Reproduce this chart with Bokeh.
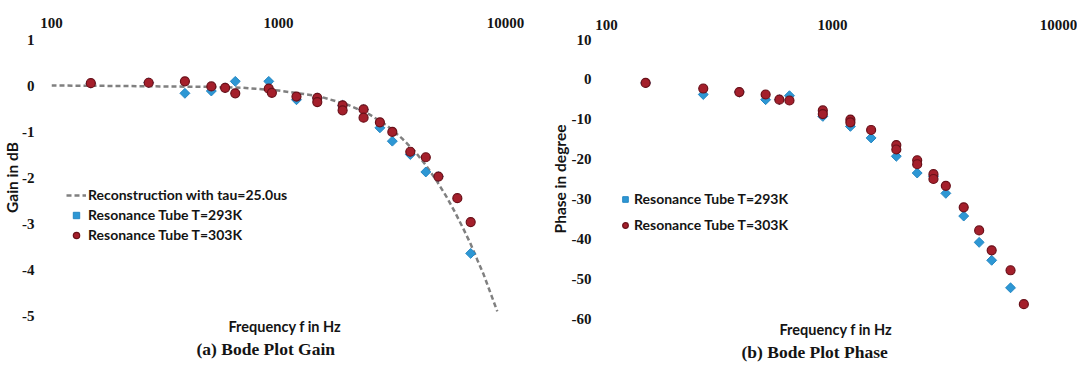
import math
from bokeh.plotting import figure
from bokeh.layouts import row
from bokeh.models import FixedTicker, Legend, LegendItem, Range1d, Title
from bokeh.embed import file_html
from bokeh.resources import INLINE

# ---------------- data ----------------
x_ticks = [100, 1000, 10000]
x_tick_labels = ["100", "1000", "10000"]
gain_ticks = [1, 0, -1, -2, -3, -4, -5]
gain_tick_labels = ["1", "0", "-1", "-2", "-3", "-4", "-5"]
phase_ticks = [10, 0, -10, -20, -30, -40, -50, -60]
phase_tick_labels = ["10", "0", "-10", "-20", "-30", "-40", "-50", "-60"]

# dashed reconstruction curve (tau = 25.0 us)
recon_freq = [100, 200, 300, 500, 700, 1000, 1500, 2000, 2500, 3000, 3500,
              4000, 4500, 5000, 5500, 6000, 6500, 7000, 7500, 8000, 8500, 9200]
recon_gain = [0.0, -0.01, -0.02, -0.03, -0.05, -0.11, -0.23, -0.41, -0.62, -0.87, -1.15,
              -1.44, -1.76, -2.09, -2.42, -2.76, -3.10, -3.43, -3.78, -4.10, -4.45, -4.91]

# Bode gain, resonance tube T=293K
gain293_freq = [149, 268, 387, 506, 582, 645, 906, 1200, 1482, 1916, 2370,
                2797, 3173, 3807, 4456, 5062, 7025]
gain293 = [0.05, 0.06, -0.17, -0.12, -0.05, 0.09, 0.09, -0.31, -0.27, -0.43, -0.52,
           -0.92, -1.21, -1.50, -1.88, -1.98, -3.65]

# Bode gain, resonance tube T=303K
gain303_freq = [149, 268, 387, 506, 582, 645, 906, 935, 1200, 1482, 1482, 1916, 1916,
                2370, 2370, 2797, 3173, 3807, 4456, 5062, 6135, 7025]
gain303 = [0.05, 0.06, 0.09, -0.02, -0.05, -0.17, -0.07, -0.16, -0.24, -0.27, -0.36,
           -0.43, -0.54, -0.52, -0.70, -0.80, -1.01, -1.44, -1.56, -1.98, -2.45, -2.97]

# Bode phase, resonance tube T=293K
phase293_freq = [149, 268, 387, 506, 582, 645, 906, 1200, 1482, 1916, 2370,
                 2797, 3173, 3807, 4456, 5062, 6135]
phase293 = [-0.9, -3.8, -3.2, -5.1, -5.1, -4.1, -9.3, -11.8, -14.7, -19.3, -23.5,
            -24.3, -28.6, -34.3, -40.9, -45.4, -52.3]

# Bode phase, resonance tube T=303K
phase303_freq = [149, 268, 387, 506, 582, 645, 906, 906, 1200, 1200, 1482, 1916, 1916,
                 2370, 2370, 2797, 2797, 3173, 3807, 4456, 5062, 6135, 7025]
phase303 = [-0.9, -2.3, -3.2, -3.8, -5.1, -5.3, -7.8, -8.7, -10.1, -10.8, -12.7, -16.5, -17.6,
            -20.3, -21.3, -23.8, -25.0, -26.7, -32.1, -37.9, -42.9, -47.9, -56.4]

# ---------------- styling ----------------
BLUE = "#2d97d4"
BLUE_EDGE = "#2587c3"
RED = "#a41f2b"
RED_EDGE = "#6a1019"
GREY = "#808080"
TXT = "#141414"
SERIF = "Liberation Serif"
SANS = "Lato"


def base_fig(frame_w, frame_h, yr, yticks, ylabels, ytitle, borders,
             ylab_standoff, xlab_standoff, ytitle_standoff):
    left, right, top, bottom = borders
    p = figure(frame_width=frame_w, frame_height=frame_h,
               x_axis_type="log", x_axis_location="above",
               x_range=Range1d(100, 10000), y_range=Range1d(*yr),
               output_backend="svg", toolbar_location=None,
               min_border_left=left, min_border_right=right,
               min_border_top=top, min_border_bottom=bottom)
    p.outline_line_color = None
    p.background_fill_color = "white"
    p.border_fill_color = "white"
    p.xgrid.visible = False
    p.ygrid.visible = False

    p.xaxis.ticker = FixedTicker(ticks=x_ticks, minor_ticks=[])
    p.xaxis.major_label_overrides = {t: l for t, l in zip(x_ticks, x_tick_labels)}
    p.yaxis.ticker = FixedTicker(ticks=yticks, minor_ticks=[])
    p.yaxis.major_label_overrides = {t: l for t, l in zip(yticks, ylabels)}
    for ax in (p.xaxis, p.yaxis):
        ax.axis_line_color = None
        ax.major_tick_line_color = None
        ax.minor_tick_line_color = None
        ax.major_tick_out = 0
        ax.major_label_text_font = SERIF
        ax.major_label_text_font_style = "bold"
        ax.major_label_text_font_size = "15px"
        ax.major_label_text_color = TXT
    p.xaxis.major_label_standoff = xlab_standoff
    p.yaxis.major_label_standoff = ylab_standoff
    p.yaxis.axis_label = ytitle
    p.yaxis.axis_label_text_font = SANS
    p.yaxis.axis_label_text_font_style = "bold"
    p.yaxis.axis_label_text_font_size = "15.5px"
    p.yaxis.axis_label_text_color = TXT
    p.yaxis.axis_label_standoff = ytitle_standoff
    return p


def add_bottom_texts(p, xlabel_offset, caption, caption_offset):
    # x-axis title (below the plot area) and the sub-figure caption
    p.add_layout(Title(text="Frequency f in Hz", align="left", offset=xlabel_offset,
                       standoff=0, text_font=SANS, text_font_style="bold",
                       text_font_size="14.5px", text_color=TXT), "below")
    p.add_layout(Title(text=caption, align="left", offset=caption_offset, standoff=5,
                       text_font=SERIF, text_font_style="bold", text_font_size="17.5px",
                       text_color=TXT), "below")


# ---------------- (a) gain ----------------
pa = base_fig(454, 276, (-5, 1), gain_ticks, gain_tick_labels, "Gain in dB",
              (47, 35, 39, 43), 17, 12, -2)
r_line = pa.line(recon_freq, recon_gain, line_color=GREY, line_width=2.5, line_dash="5 3")
r_b = pa.scatter(gain293_freq, gain293, marker="square", angle=math.pi / 4, size=7,
                 fill_color=BLUE, line_color=BLUE_EDGE, line_width=1)
r_r = pa.scatter(gain303_freq, gain303, marker="circle", size=9,
                 fill_color=RED, line_color=RED_EDGE, line_width=1.2)
leg_a = Legend(items=[LegendItem(label="Reconstruction with tau=25.0us", renderers=[r_line]),
                      LegendItem(label="Resonance Tube T=293K", renderers=[r_b]),
                      LegendItem(label="Resonance Tube T=303K", renderers=[r_r])],
               location=(15, 72), padding=0, margin=0, spacing=3,
               glyph_width=20, glyph_height=16, label_height=16, label_standoff=2,
               border_line_color=None, background_fill_alpha=0,
               label_text_font=SANS, label_text_font_style="bold",
               label_text_font_size="14px", label_text_color=TXT)
pa.add_layout(leg_a)
add_bottom_texts(pa, 177, "(a) Bode Plot Gain", 145)

# ---------------- (b) phase ----------------
pb = base_fig(452, 279, (-60, 10), phase_ticks, phase_tick_labels, "Phase in degree",
              (66, 19, 37, 42), 15, 10, 0)
r_b2 = pb.scatter(phase293_freq, phase293, marker="square", angle=math.pi / 4, size=7,
                  fill_color=BLUE, line_color=BLUE_EDGE, line_width=1)
r_r2 = pb.scatter(phase303_freq, phase303, marker="circle", size=9,
                  fill_color=RED, line_color=RED_EDGE, line_width=1.2)
leg_b = Legend(items=[LegendItem(label="Resonance Tube T=293K", renderers=[r_b2]),
                      LegendItem(label="Resonance Tube T=303K", renderers=[r_r2])],
               location=(12, 85), padding=0, margin=0, spacing=9,
               glyph_width=14, glyph_height=16, label_height=16, label_standoff=2,
               border_line_color=None, background_fill_alpha=0,
               label_text_font=SANS, label_text_font_style="bold",
               label_text_font_size="14px", label_text_color=TXT)
pb.add_layout(leg_b)
add_bottom_texts(pb, 173, "(b) Bode Plot Phase", 135)

layout = row(pa, pb, spacing=0)
open("out.html", "w").write(file_html(layout, INLINE))
